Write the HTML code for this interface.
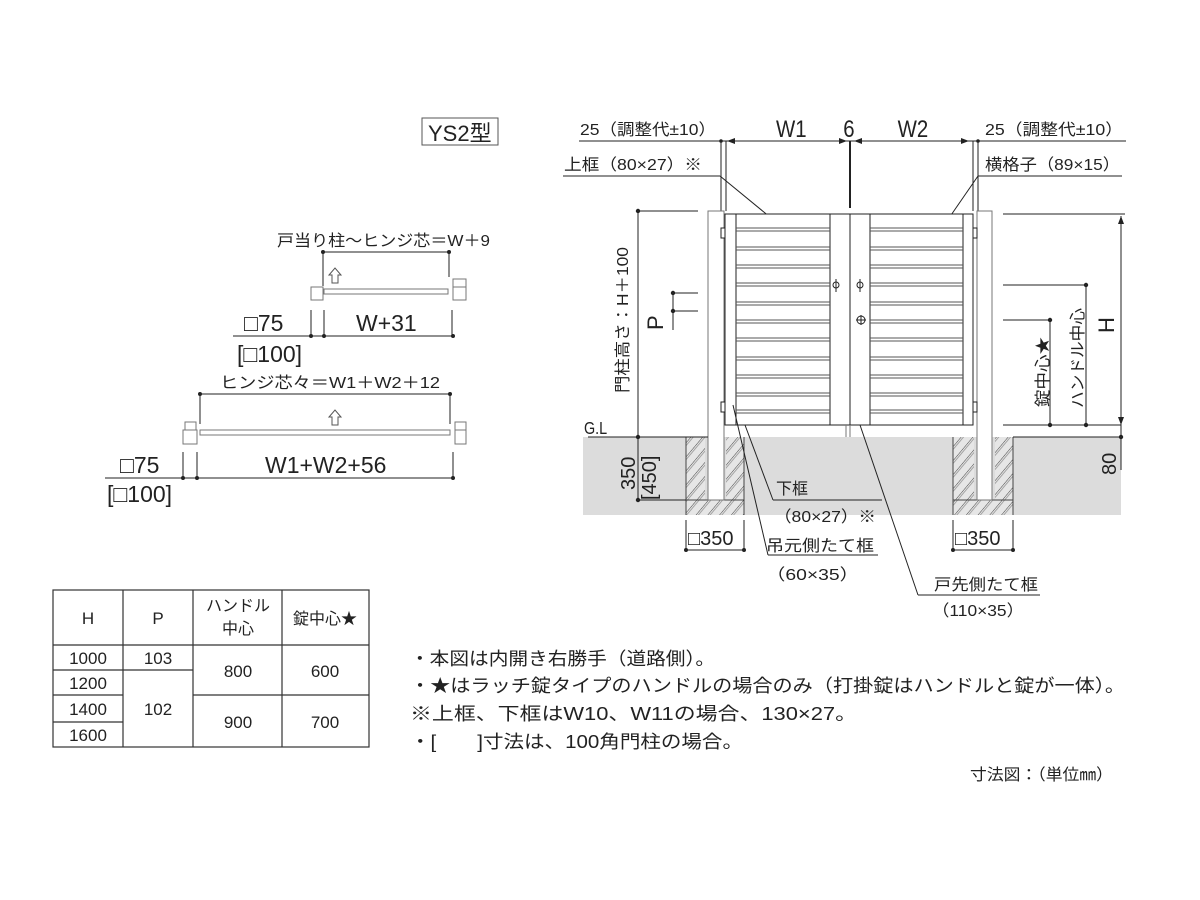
<!DOCTYPE html>
<html><head><meta charset="utf-8"><style>
html,body{margin:0;padding:0;background:#fff}
svg{display:block}
text{font-family:"Liberation Sans","Noto Sans CJK JP",sans-serif;fill:#222}
</style></head><body>
<svg width="1200" height="900" viewBox="0 0 1200 900" xmlns="http://www.w3.org/2000/svg">
<defs>
<pattern id="h" width="9" height="9" patternUnits="userSpaceOnUse" patternTransform="rotate(40)">
<rect width="9" height="9" fill="#e6e6e6"/><line x1="0" y1="0" x2="0" y2="9" stroke="#444" stroke-width="1"/><line x1="2" y1="0" x2="2" y2="9" stroke="#777" stroke-width="0.6"/></pattern>
</defs>
<g stroke="#222" stroke-width="1" fill="none">
<rect x="422" y="118" width="76" height="27" stroke="#555"/>
</g>
<text x="428" y="141" font-size="22">YS2型</text>

<rect x="583" y="437" width="538" height="78" fill="#dcdcdc"/>
<rect x="686" y="437" width="58" height="78" fill="url(#h)"/>
<rect x="953" y="437" width="60" height="78" fill="url(#h)"/>
<rect x="705" y="437" width="21" height="63" fill="#dcdcdc"/>
<rect x="974" y="437" width="21" height="63" fill="#dcdcdc"/>
<g stroke="#444" stroke-width="1" fill="none">
<line x1="686" y1="500" x2="744" y2="500"/><line x1="953" y1="500" x2="1013" y2="500"/>
<line x1="686" y1="437" x2="686" y2="515"/><line x1="744" y1="437" x2="744" y2="515"/>
<line x1="953" y1="437" x2="953" y2="515"/><line x1="1013" y1="437" x2="1013" y2="515"/>
</g>

<g stroke="#222" stroke-width="1" fill="none">
<line x1="579" y1="141" x2="1126" y2="141"/>
<line x1="563" y1="176" x2="720" y2="176"/>
<line x1="978" y1="176" x2="1122" y2="176"/>
<line x1="721" y1="141" x2="721" y2="211"/><line x1="726" y1="141" x2="726" y2="211"/>
<line x1="973" y1="141" x2="973" y2="211"/><line x1="978" y1="141" x2="978" y2="211"/>
<line x1="850" y1="141" x2="850" y2="208" stroke-width="2"/>
<line x1="720" y1="176" x2="776" y2="222"/>
<line x1="978" y1="176" x2="938" y2="234"/>
<rect x="708" y="211" width="16" height="289" fill="#fff" stroke="#777"/>
<rect x="977" y="211" width="15" height="289" fill="#fff" stroke="#777"/>
<rect x="725" y="214" width="248" height="211" fill="#fff"/>
<rect x="725" y="214" width="11" height="211"/>
<rect x="963" y="214" width="10" height="211"/>
<rect x="830" y="214" width="40" height="211"/>
<line x1="850" y1="214" x2="850" y2="425"/>
<line x1="850" y1="425" x2="850" y2="437" stroke="#777"/><line x1="846" y1="425" x2="846" y2="437" stroke="#777"/>
</g>
<g stroke="#555" stroke-width="1">
<path d="M736 228H830M736 231H830M870 228H963M870 231H963
M736 247H830M736 250H830M870 247H963M870 250H963
M736 265H830M736 268H830M870 265H963M870 268H963
M736 283H830M736 286H830M870 283H963M870 286H963
M736 302H830M736 305H830M870 302H963M870 305H963
M736 320H830M736 323H830M870 320H963M870 323H963
M736 338H830M736 341H830M870 338H963M870 341H963
M736 357H830M736 360H830M870 357H963M870 360H963
M736 375H830M736 378H830M870 375H963M870 378H963
M736 393H830M736 396H830M870 393H963M870 396H963
M736 410H830M736 413H830M870 410H963M870 413H963"/>
</g>
<g stroke="#222" stroke-width="1" fill="#fff">
<rect x="721" y="228" width="4" height="10"/><rect x="721" y="402" width="4" height="10"/>
<rect x="973" y="228" width="4" height="10"/><rect x="973" y="402" width="4" height="10"/>
<circle cx="836" cy="285" r="3"/><line x1="836" y1="279" x2="836" y2="292"/>
<circle cx="860" cy="285" r="3"/><line x1="860" y1="279" x2="860" y2="292"/>
<circle cx="861" cy="320" r="4"/><line x1="861" y1="315" x2="861" y2="325"/><line x1="856" y1="320" x2="866" y2="320"/>
</g>
<g stroke="#222" stroke-width="1" fill="none">
<line x1="638" y1="211" x2="698" y2="211"/>
<line x1="638" y1="211" x2="638" y2="500"/>
<line x1="638" y1="500" x2="686" y2="500"/>
<line x1="588" y1="437" x2="708" y2="437"/>
<line x1="673" y1="293" x2="673" y2="330"/>
<line x1="673" y1="293" x2="698" y2="293"/><line x1="673" y1="311" x2="698" y2="311"/>
<line x1="1003" y1="214" x2="1125" y2="214"/>
<line x1="1003" y1="285" x2="1086" y2="285"/>
<line x1="1003" y1="320" x2="1050" y2="320"/>
<line x1="1003" y1="425" x2="1121" y2="425"/>
<line x1="1013" y1="437" x2="1121" y2="437"/>
<line x1="1121" y1="216" x2="1121" y2="470"/>
<line x1="1086" y1="285" x2="1086" y2="425"/>
<line x1="1050" y1="320" x2="1050" y2="425"/>
<line x1="733" y1="405" x2="768" y2="555"/><line x1="768" y1="555" x2="878" y2="555"/>
<line x1="745" y1="425" x2="773" y2="500"/><line x1="773" y1="500" x2="882" y2="500"/>
<line x1="860" y1="425" x2="918" y2="595"/><line x1="918" y1="595" x2="1040" y2="595"/>
<line x1="686" y1="520" x2="686" y2="550"/><line x1="744" y1="520" x2="744" y2="550"/>
<line x1="686" y1="550" x2="744" y2="550"/>
<line x1="953" y1="520" x2="953" y2="550"/><line x1="1013" y1="520" x2="1013" y2="550"/>
<line x1="953" y1="550" x2="1013" y2="550"/>
</g>
<g fill="#222">
<path d="M727 141l8-3v6zM847 141l-8-3v6zM854 141l8-3v6zM969 141l-8-3v6z"/>
<path d="M1121 216l-3 8h6zM1121 425l-3-8h6z"/>
<circle cx="721" cy="141" r="1.8"/><circle cx="978" cy="141" r="1.8"/>
<circle cx="638" cy="211" r="2.2"/><circle cx="638" cy="437" r="2.2"/><circle cx="638" cy="500" r="2.2"/>
<circle cx="673" cy="293" r="2.2"/><circle cx="673" cy="311" r="2.2"/>
<circle cx="1086" cy="285" r="2.2"/><circle cx="1086" cy="425" r="2.2"/>
<circle cx="1050" cy="320" r="2.2"/><circle cx="1050" cy="425" r="2.2"/>
<circle cx="1121" cy="437" r="2.2"/>
<circle cx="686" cy="550" r="2"/><circle cx="744" cy="550" r="2"/><circle cx="953" cy="550" r="2"/><circle cx="1013" cy="550" r="2"/>
</g>
<g font-size="16">
<text x="580" y="135" textLength="136" lengthAdjust="spacingAndGlyphs">25（調整代±10）</text>
<text x="985" y="135" textLength="138" lengthAdjust="spacingAndGlyphs">25（調整代±10）</text>
<text x="564" y="170" textLength="138" lengthAdjust="spacingAndGlyphs">上框（80×27）※</text>
<text x="985" y="170" textLength="135" lengthAdjust="spacingAndGlyphs">横格子（89×15）</text>
<text x="776" y="494">下框</text>
<text x="774" y="522" textLength="102" lengthAdjust="spacingAndGlyphs">（80×27）※</text>
<text x="766" y="551" textLength="108" lengthAdjust="spacingAndGlyphs">吊元側たて框</text>
<text x="766" y="580" textLength="93" lengthAdjust="spacingAndGlyphs">（60×35）</text>
<text x="934" y="590" textLength="104" lengthAdjust="spacingAndGlyphs">戸先側たて框</text>
<text x="932" y="616" textLength="92" lengthAdjust="spacingAndGlyphs">（110×35）</text>
</g>
<g font-size="24" transform="scale(0.85,1)">
<text x="913" y="137">W1</text>
<text x="992" y="137">6</text>
<text x="1056" y="137">W2</text>
</g>
<text x="584" y="434" font-size="18" transform="translate(584 434) scale(0.8 1) translate(-584 -434)">G.L</text>
<text x="628" y="393" font-size="16" transform="rotate(-90 628 393)" textLength="146" lengthAdjust="spacingAndGlyphs">門柱高さ：H＋100</text>
<text x="663" y="330" font-size="22" transform="rotate(-90 663 330)">P</text>
<text x="1048" y="407" font-size="16" transform="rotate(-90 1048 407)" textLength="70" lengthAdjust="spacingAndGlyphs">錠中心★</text>
<text x="1083" y="408" font-size="16" transform="rotate(-90 1083 408)" textLength="100" lengthAdjust="spacingAndGlyphs">ハンドル中心</text>
<text x="1114" y="333" font-size="22" transform="rotate(-90 1114 333)">H</text>
<text x="1116" y="475" font-size="20" transform="rotate(-90 1116 475)">80</text>
<text x="635" y="490" font-size="20" transform="rotate(-90 635 490)">350</text>
<text x="656" y="500" font-size="20" transform="rotate(-90 656 500)">[450]</text>
<text x="688" y="545" font-size="20">□350</text>
<text x="955" y="545" font-size="20">□350</text>

<g stroke="#222" stroke-width="1" fill="none">
<line x1="323" y1="252" x2="449" y2="252"/>
<line x1="323" y1="252" x2="323" y2="286"/><line x1="449" y1="252" x2="449" y2="277"/>
<rect x="311" y="287" width="12" height="13" stroke="#777"/>
<rect x="324" y="289" width="124" height="5" stroke="#777"/>
<rect x="453" y="279" width="13" height="8" stroke="#777"/><rect x="453" y="287" width="13" height="13" stroke="#777"/>
<path d="M332 283v-8h-3l6-7 6 7h-3v8z" stroke="#555"/>
<line x1="233" y1="336" x2="453" y2="336"/>
<line x1="311" y1="310" x2="311" y2="336"/><line x1="324" y1="310" x2="324" y2="336"/><line x1="452" y1="310" x2="452" y2="336"/>
<line x1="200" y1="394" x2="450" y2="394"/>
<line x1="200" y1="394" x2="200" y2="424"/><line x1="450" y1="394" x2="450" y2="424"/>
<rect x="185" y="422" width="11" height="8" stroke="#777"/><rect x="183" y="430" width="14" height="14" stroke="#777"/>
<rect x="200" y="430" width="250" height="5" stroke="#777"/>
<rect x="455" y="422" width="11" height="8" stroke="#777"/><rect x="455" y="430" width="11" height="14" stroke="#777"/>
<path d="M332 425v-8h-3l6-7 6 7h-3v8z" stroke="#555"/>
<line x1="105" y1="478" x2="453" y2="478"/>
<line x1="183" y1="452" x2="183" y2="478"/><line x1="197" y1="452" x2="197" y2="478"/><line x1="453" y1="452" x2="453" y2="478"/>
</g>
<g fill="#222">
<circle cx="323" cy="252" r="2"/><circle cx="449" cy="252" r="2"/>
<circle cx="311" cy="336" r="2"/><circle cx="324" cy="336" r="2"/><circle cx="453" cy="336" r="2"/>
<circle cx="200" cy="394" r="2"/><circle cx="450" cy="394" r="2"/>
<circle cx="183" cy="478" r="2"/><circle cx="197" cy="478" r="2"/><circle cx="453" cy="478" r="2"/>
</g>
<text x="277" y="246" font-size="16" textLength="213" lengthAdjust="spacingAndGlyphs">戸当り柱～ヒンジ芯＝W＋9</text>
<text x="244" y="331" font-size="23">□75</text>
<text x="356" y="331" font-size="23">W+31</text>
<text x="237" y="362" font-size="23">[□100]</text>
<text x="220" y="388" font-size="16" textLength="220" lengthAdjust="spacingAndGlyphs">ヒンジ芯々＝W1＋W2＋12</text>
<text x="120" y="473" font-size="23">□75</text>
<text x="265" y="473" font-size="23">W1+W2+56</text>
<text x="107" y="502" font-size="23">[□100]</text>

<g stroke="#333" stroke-width="1.2" fill="none">
<rect x="53" y="590" width="316" height="157"/>
<line x1="123" y1="590" x2="123" y2="747"/><line x1="193" y1="590" x2="193" y2="747"/><line x1="282" y1="590" x2="282" y2="747"/>
<line x1="53" y1="645" x2="369" y2="645"/>
<line x1="53" y1="670" x2="193" y2="670"/>
<line x1="53" y1="695" x2="123" y2="695"/><line x1="193" y1="695" x2="369" y2="695"/>
<line x1="53" y1="722" x2="123" y2="722"/>
</g>
<g font-size="17" text-anchor="middle">
<text x="88" y="624">H</text><text x="158" y="624">P</text>
<text x="238" y="611" font-size="16">ハンドル</text><text x="238" y="634" font-size="16">中心</text>
<text x="325" y="624" font-size="16">錠中心★</text>
<text x="88" y="664">1000</text><text x="88" y="689">1200</text><text x="88" y="715">1400</text><text x="88" y="741">1600</text>
<text x="158" y="664">103</text><text x="158" y="715">102</text>
<text x="238" y="677">800</text><text x="325" y="677">600</text>
<text x="238" y="728">900</text><text x="325" y="728">700</text>
</g>
<g font-size="18">
<text x="410" y="665" textLength="305" lengthAdjust="spacingAndGlyphs">・本図は内開き右勝手（道路側）。</text>
<text x="410" y="692" textLength="715" lengthAdjust="spacingAndGlyphs">・★はラッチ錠タイプのハンドルの場合のみ（打掛錠はハンドルと錠が一体）。</text>
<text x="410" y="720" textLength="447" lengthAdjust="spacingAndGlyphs">※上框、下框はW10、W11の場合、130×27。</text>
<text x="410" y="748" textLength="333" lengthAdjust="spacingAndGlyphs">・[　　]寸法は、100角門柱の場合。</text>
</g>
<text x="970" y="780" font-size="16" textLength="143" lengthAdjust="spacingAndGlyphs">寸法図：（単位㎜）</text>
</svg>
</body></html>
